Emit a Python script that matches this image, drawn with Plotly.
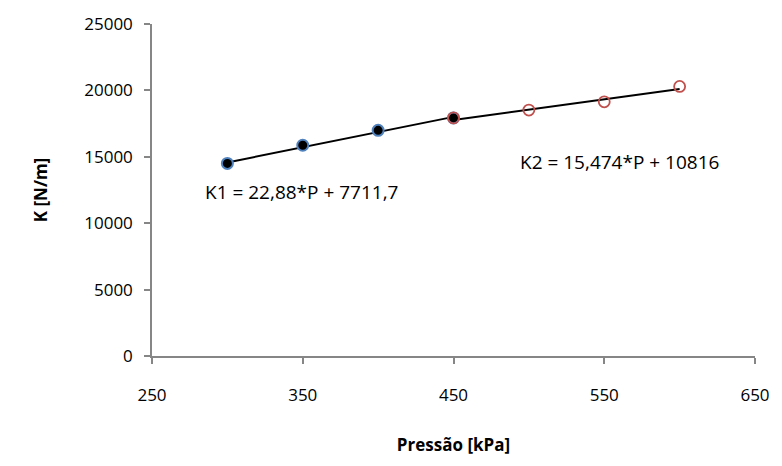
import plotly.graph_objects as go

# Measured spring stiffness vs. pressure
pressure_k1 = [300, 350, 400, 450]
stiffness_k1 = [14500, 15870, 16990, 17930]
pressure_k2 = [450, 500, 550, 600]
stiffness_k2 = [17930, 18520, 19140, 20300]

# Linear fits for the two pressure ranges
fit_labels = ["K1 = 22,88*P + 7711,7", "K2 = 15,474*P + 10816"]
fit_slopes = [22.88, 15.474]
fit_intercepts = [7711.7, 10816]

x_ticks = [250, 350, 450, 550, 650]
y_ticks = [0, 5000, 10000, 15000, 20000, 25000]

FONT = "Open Sans"
AXIS_GREY = "#868686"

fig = go.Figure()

# Trend lines from the fitted equations
for xs, m, b in [(pressure_k1, fit_slopes[0], fit_intercepts[0]),
                 (pressure_k2, fit_slopes[1], fit_intercepts[1])]:
    x_end = [xs[0], xs[-1]]
    fig.add_trace(go.Scatter(
        x=x_end, y=[m * v + b for v in x_end], mode="lines",
        line=dict(color="black", width=2), showlegend=False, hoverinfo="skip"))

fig.add_trace(go.Scatter(
    x=pressure_k1, y=stiffness_k1, mode="markers", showlegend=False,
    marker=dict(size=11, color="black", line=dict(color="#4F81BD", width=2))))
fig.add_trace(go.Scatter(
    x=pressure_k2, y=stiffness_k2, mode="markers", showlegend=False,
    marker=dict(size=11, color="rgba(0,0,0,0)", line=dict(color="#C0504D", width=1.8))))

fig.add_annotation(x=349, y=12350, text=fit_labels[0], showarrow=False,
                   font=dict(family=FONT, size=19, color="black"))
fig.add_annotation(x=560, y=14600, text=fit_labels[1], showarrow=False,
                   font=dict(family=FONT, size=19, color="black"))

axis_common = dict(showline=True, linecolor=AXIS_GREY, linewidth=1.5,
                   ticks="outside", tickcolor=AXIS_GREY, ticklen=6, tickwidth=1.5,
                   showgrid=False, zeroline=False,
                   tickfont=dict(family=FONT, size=17, color="black"))

fig.update_xaxes(range=[250, 650], tickvals=x_ticks,
                 ticktext=[str(v) for v in x_ticks], ticklabelstandoff=17,
                 title=dict(text="<b>Pressão [kPa]</b>", standoff=34,
                            font=dict(family=FONT, size=17, color="black")),
                 **axis_common)
fig.update_yaxes(range=[0, 25000], tickvals=y_ticks,
                 ticktext=[str(v) for v in y_ticks], ticklabelstandoff=8,
                 title=dict(text="<b>K [N/m]</b>", standoff=32,
                            font=dict(family=FONT, size=17, color="black")),
                 **axis_common)

fig.update_layout(width=782, height=466, margin=dict(l=152, r=22, t=20, b=110),
                  plot_bgcolor="white", paper_bgcolor="white")

fig.write_html("out.html")
